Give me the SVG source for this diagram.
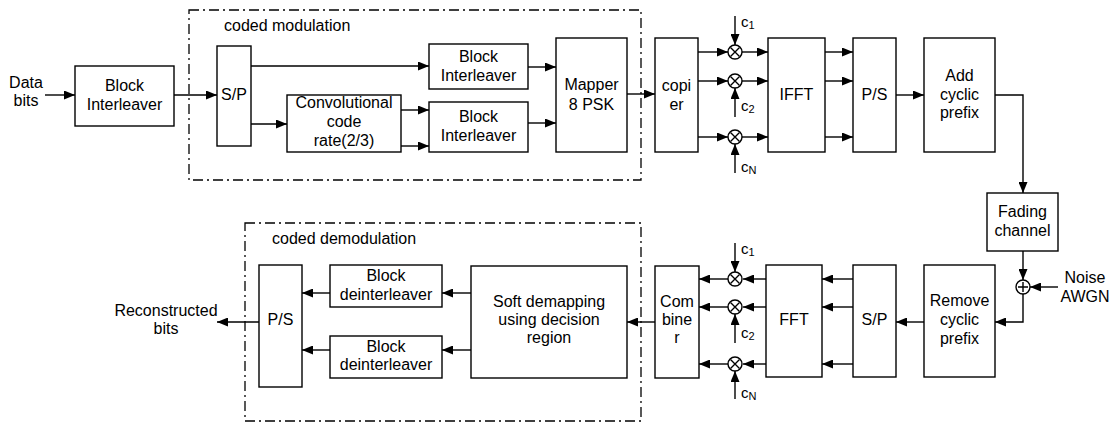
<svg xmlns="http://www.w3.org/2000/svg" width="1115" height="424" viewBox="0 0 1115 424">
<style>
.b{fill:#fff;stroke:#000;stroke-width:1.4}
.l{fill:none;stroke:#000;stroke-width:1.4}
.d{fill:none;stroke:#000;stroke-width:1.3;stroke-dasharray:10,4,2,4}
text{font-family:"Liberation Sans",Arial,sans-serif;font-size:16px;fill:#000;text-anchor:middle}
.s{font-size:15px;text-anchor:start}
.ss{font-size:11px}
.t{text-anchor:start}
</style>
<defs>
<marker id="a" markerUnits="userSpaceOnUse" markerWidth="11" markerHeight="9" refX="11" refY="4.5" orient="auto">
<path d="M0,0 L11,4.5 L0,9 z" fill="#000"/>
</marker>
</defs>
<rect class="d" x="189" y="10" width="452" height="170"/>
<rect class="d" x="245" y="223" width="396" height="198"/>
<text class="t" x="224" y="31">coded modulation</text>
<text class="t" x="272" y="244">coded demodulation</text>

<g id="connectors">
<line class="l" x1="45" y1="95" x2="75" y2="95" marker-end="url(#a)"/>
<line class="l" x1="174" y1="95" x2="217" y2="95" marker-end="url(#a)"/>
<line class="l" x1="251" y1="66" x2="429" y2="66" marker-end="url(#a)"/>
<line class="l" x1="251" y1="124" x2="287" y2="124" marker-end="url(#a)"/>
<line class="l" x1="401" y1="110" x2="429" y2="110" marker-end="url(#a)"/>
<line class="l" x1="401" y1="146" x2="429" y2="146" marker-end="url(#a)"/>
<line class="l" x1="528" y1="67" x2="556" y2="67" marker-end="url(#a)"/>
<line class="l" x1="528" y1="123" x2="556" y2="123" marker-end="url(#a)"/>
<line class="l" x1="627" y1="94" x2="655" y2="94" marker-end="url(#a)"/>
<line class="l" x1="698" y1="52" x2="728" y2="52" marker-end="url(#a)"/>
<line class="l" x1="698" y1="81" x2="728" y2="81" marker-end="url(#a)"/>
<line class="l" x1="698" y1="137" x2="728" y2="137" marker-end="url(#a)"/>
<line class="l" x1="742" y1="52" x2="768" y2="52" marker-end="url(#a)"/>
<line class="l" x1="742" y1="81" x2="768" y2="81" marker-end="url(#a)"/>
<line class="l" x1="742" y1="137" x2="768" y2="137" marker-end="url(#a)"/>
<line class="l" x1="735" y1="16" x2="735" y2="45" marker-end="url(#a)"/>
<line class="l" x1="735" y1="117" x2="735" y2="88" marker-end="url(#a)"/>
<line class="l" x1="735" y1="173" x2="735" y2="144" marker-end="url(#a)"/>
<line class="l" x1="825" y1="52" x2="853" y2="52" marker-end="url(#a)"/>
<line class="l" x1="825" y1="81" x2="853" y2="81" marker-end="url(#a)"/>
<line class="l" x1="825" y1="137" x2="853" y2="137" marker-end="url(#a)"/>
<line class="l" x1="896" y1="95" x2="924" y2="95" marker-end="url(#a)"/>
<polyline class="l" points="995,95 1023,95 1023,193" marker-end="url(#a)"/>
<line class="l" x1="1023" y1="251" x2="1023" y2="280" marker-end="url(#a)"/>
<line class="l" x1="1058" y1="287" x2="1030" y2="287" marker-end="url(#a)"/>
<polyline class="l" points="1023,294 1023,322 995,322" marker-end="url(#a)"/>
<line class="l" x1="924" y1="322" x2="896" y2="322" marker-end="url(#a)"/>
<line class="l" x1="853" y1="279" x2="822" y2="279" marker-end="url(#a)"/>
<line class="l" x1="853" y1="307" x2="822" y2="307" marker-end="url(#a)"/>
<line class="l" x1="853" y1="364" x2="822" y2="364" marker-end="url(#a)"/>
<line class="l" x1="766" y1="279" x2="743" y2="279" marker-end="url(#a)"/>
<line class="l" x1="766" y1="307" x2="743" y2="307" marker-end="url(#a)"/>
<line class="l" x1="766" y1="364" x2="743" y2="364" marker-end="url(#a)"/>
<line class="l" x1="728" y1="279" x2="699" y2="279" marker-end="url(#a)"/>
<line class="l" x1="728" y1="307" x2="699" y2="307" marker-end="url(#a)"/>
<line class="l" x1="728" y1="364" x2="699" y2="364" marker-end="url(#a)"/>
<line class="l" x1="735" y1="243" x2="735" y2="272" marker-end="url(#a)"/>
<line class="l" x1="735" y1="343" x2="735" y2="314" marker-end="url(#a)"/>
<line class="l" x1="735" y1="399" x2="735" y2="371" marker-end="url(#a)"/>
<line class="l" x1="655" y1="322" x2="627" y2="322" marker-end="url(#a)"/>
<line class="l" x1="471" y1="293" x2="442" y2="293" marker-end="url(#a)"/>
<line class="l" x1="471" y1="350" x2="442" y2="350" marker-end="url(#a)"/>
<line class="l" x1="330" y1="293" x2="302" y2="293" marker-end="url(#a)"/>
<line class="l" x1="330" y1="350" x2="302" y2="350" marker-end="url(#a)"/>
<line class="l" x1="259" y1="322" x2="217" y2="322" marker-end="url(#a)"/>
</g>

<g id="data-bits"><text x="26" y="88">Data</text><text x="26" y="106">bits</text></g>
<g id="block-interleaver"><rect class="b" x="75" y="66" width="99" height="60"/><text x="124.5" y="91">Block</text><text x="124.5" y="110">Interleaver</text></g>
<g id="sp1"><rect class="b" x="217" y="46" width="34" height="100"/><text x="234" y="100">S/P</text></g>
<g id="conv"><rect class="b" x="287" y="95" width="114" height="57"/><text x="344" y="108">Convolutional</text><text x="344" y="127">code</text><text x="344" y="146">rate(2/3)</text></g>
<g id="bi1"><rect class="b" x="429" y="44" width="99" height="45"/><text x="478.5" y="62">Block</text><text x="478.5" y="81">Interleaver</text></g>
<g id="bi2"><rect class="b" x="429" y="102" width="99" height="50"/><text x="478.5" y="122">Block</text><text x="478.5" y="141">Interleaver</text></g>
<g id="mapper"><rect class="b" x="556" y="38" width="71" height="114"/><text x="591.5" y="90">Mapper</text><text x="591.5" y="110">8 PSK</text></g>
<g id="copier"><rect class="b" x="655" y="38" width="43" height="114"/><text x="676.5" y="91">copi</text><text x="676.5" y="110">er</text></g>
<g id="mult-tx">
<circle class="b" cx="735" cy="52" r="7"/><path class="l" d="M730.5,47.5 L739.5,56.5 M739.5,47.5 L730.5,56.5"/>
<circle class="b" cx="735" cy="81" r="7"/><path class="l" d="M730.5,76.5 L739.5,85.5 M739.5,76.5 L730.5,85.5"/>
<circle class="b" cx="735" cy="137" r="7"/><path class="l" d="M730.5,132.5 L739.5,141.5 M739.5,132.5 L730.5,141.5"/>
<text class="s" x="741" y="27">c<tspan class="ss" dy="2">1</tspan></text>
<text class="s" x="741" y="111">c<tspan class="ss" dy="2">2</tspan></text>
<text class="s" x="741" y="172">c<tspan class="ss" dy="2">N</tspan></text>
</g>
<g id="ifft"><rect class="b" x="768" y="38" width="57" height="114"/><text x="796.5" y="100">IFFT</text></g>
<g id="ps1"><rect class="b" x="853" y="38" width="43" height="114"/><text x="874.5" y="100">P/S</text></g>
<g id="add-cp"><rect class="b" x="924" y="38" width="71" height="114"/><text x="959.5" y="81">Add</text><text x="959.5" y="100">cyclic</text><text x="959.5" y="118">prefix</text></g>
<g id="fading"><rect class="b" x="987" y="193" width="71" height="58"/><text x="1022.5" y="217">Fading</text><text x="1022.5" y="236">channel</text></g>
<g id="adder"><circle class="b" cx="1023" cy="287" r="7"/><path class="l" d="M1018,287 L1028,287 M1023,282 L1023,292"/></g>
<g id="noise"><text x="1085" y="283">Noise</text><text x="1085" y="302">AWGN</text></g>
<g id="remove-cp"><rect class="b" x="924" y="265" width="71" height="112"/><text x="959.5" y="306">Remove</text><text x="959.5" y="325">cyclic</text><text x="959.5" y="344">prefix</text></g>
<g id="sp2"><rect class="b" x="853" y="265" width="43" height="112"/><text x="874.5" y="325">S/P</text></g>
<g id="fft"><rect class="b" x="766" y="265" width="56" height="112"/><text x="794" y="325">FFT</text></g>
<g id="mult-rx">
<circle class="b" cx="735" cy="279" r="7"/><path class="l" d="M730.5,274.5 L739.5,283.5 M739.5,274.5 L730.5,283.5"/>
<circle class="b" cx="735" cy="307" r="7"/><path class="l" d="M730.5,302.5 L739.5,311.5 M739.5,302.5 L730.5,311.5"/>
<circle class="b" cx="735" cy="364" r="7"/><path class="l" d="M730.5,359.5 L739.5,368.5 M739.5,359.5 L730.5,368.5"/>
<text class="s" x="741" y="254">c<tspan class="ss" dy="2">1</tspan></text>
<text class="s" x="741" y="338">c<tspan class="ss" dy="2">2</tspan></text>
<text class="s" x="741" y="398">c<tspan class="ss" dy="2">N</tspan></text>
</g>
<g id="combiner"><rect class="b" x="655" y="266" width="44" height="112"/><text x="677" y="307">Com</text><text x="677" y="325">bine</text><text x="677" y="343">r</text></g>
<g id="soft-demap"><rect class="b" x="471" y="266" width="156" height="112"/><text x="549" y="307">Soft demapping</text><text x="549" y="325">using decision</text><text x="549" y="343">region</text></g>
<g id="bd1"><rect class="b" x="330" y="265" width="112" height="42"/><text x="386" y="281">Block</text><text x="386" y="300">deinterleaver</text></g>
<g id="bd2"><rect class="b" x="330" y="336" width="112" height="42"/><text x="386" y="352">Block</text><text x="386" y="370">deinterleaver</text></g>
<g id="ps2"><rect class="b" x="259" y="265" width="43" height="122"/><text x="280.5" y="325">P/S</text></g>
<g id="recon"><text x="166" y="316">Reconstructed</text><text x="166" y="334">bits</text></g>
</svg>
